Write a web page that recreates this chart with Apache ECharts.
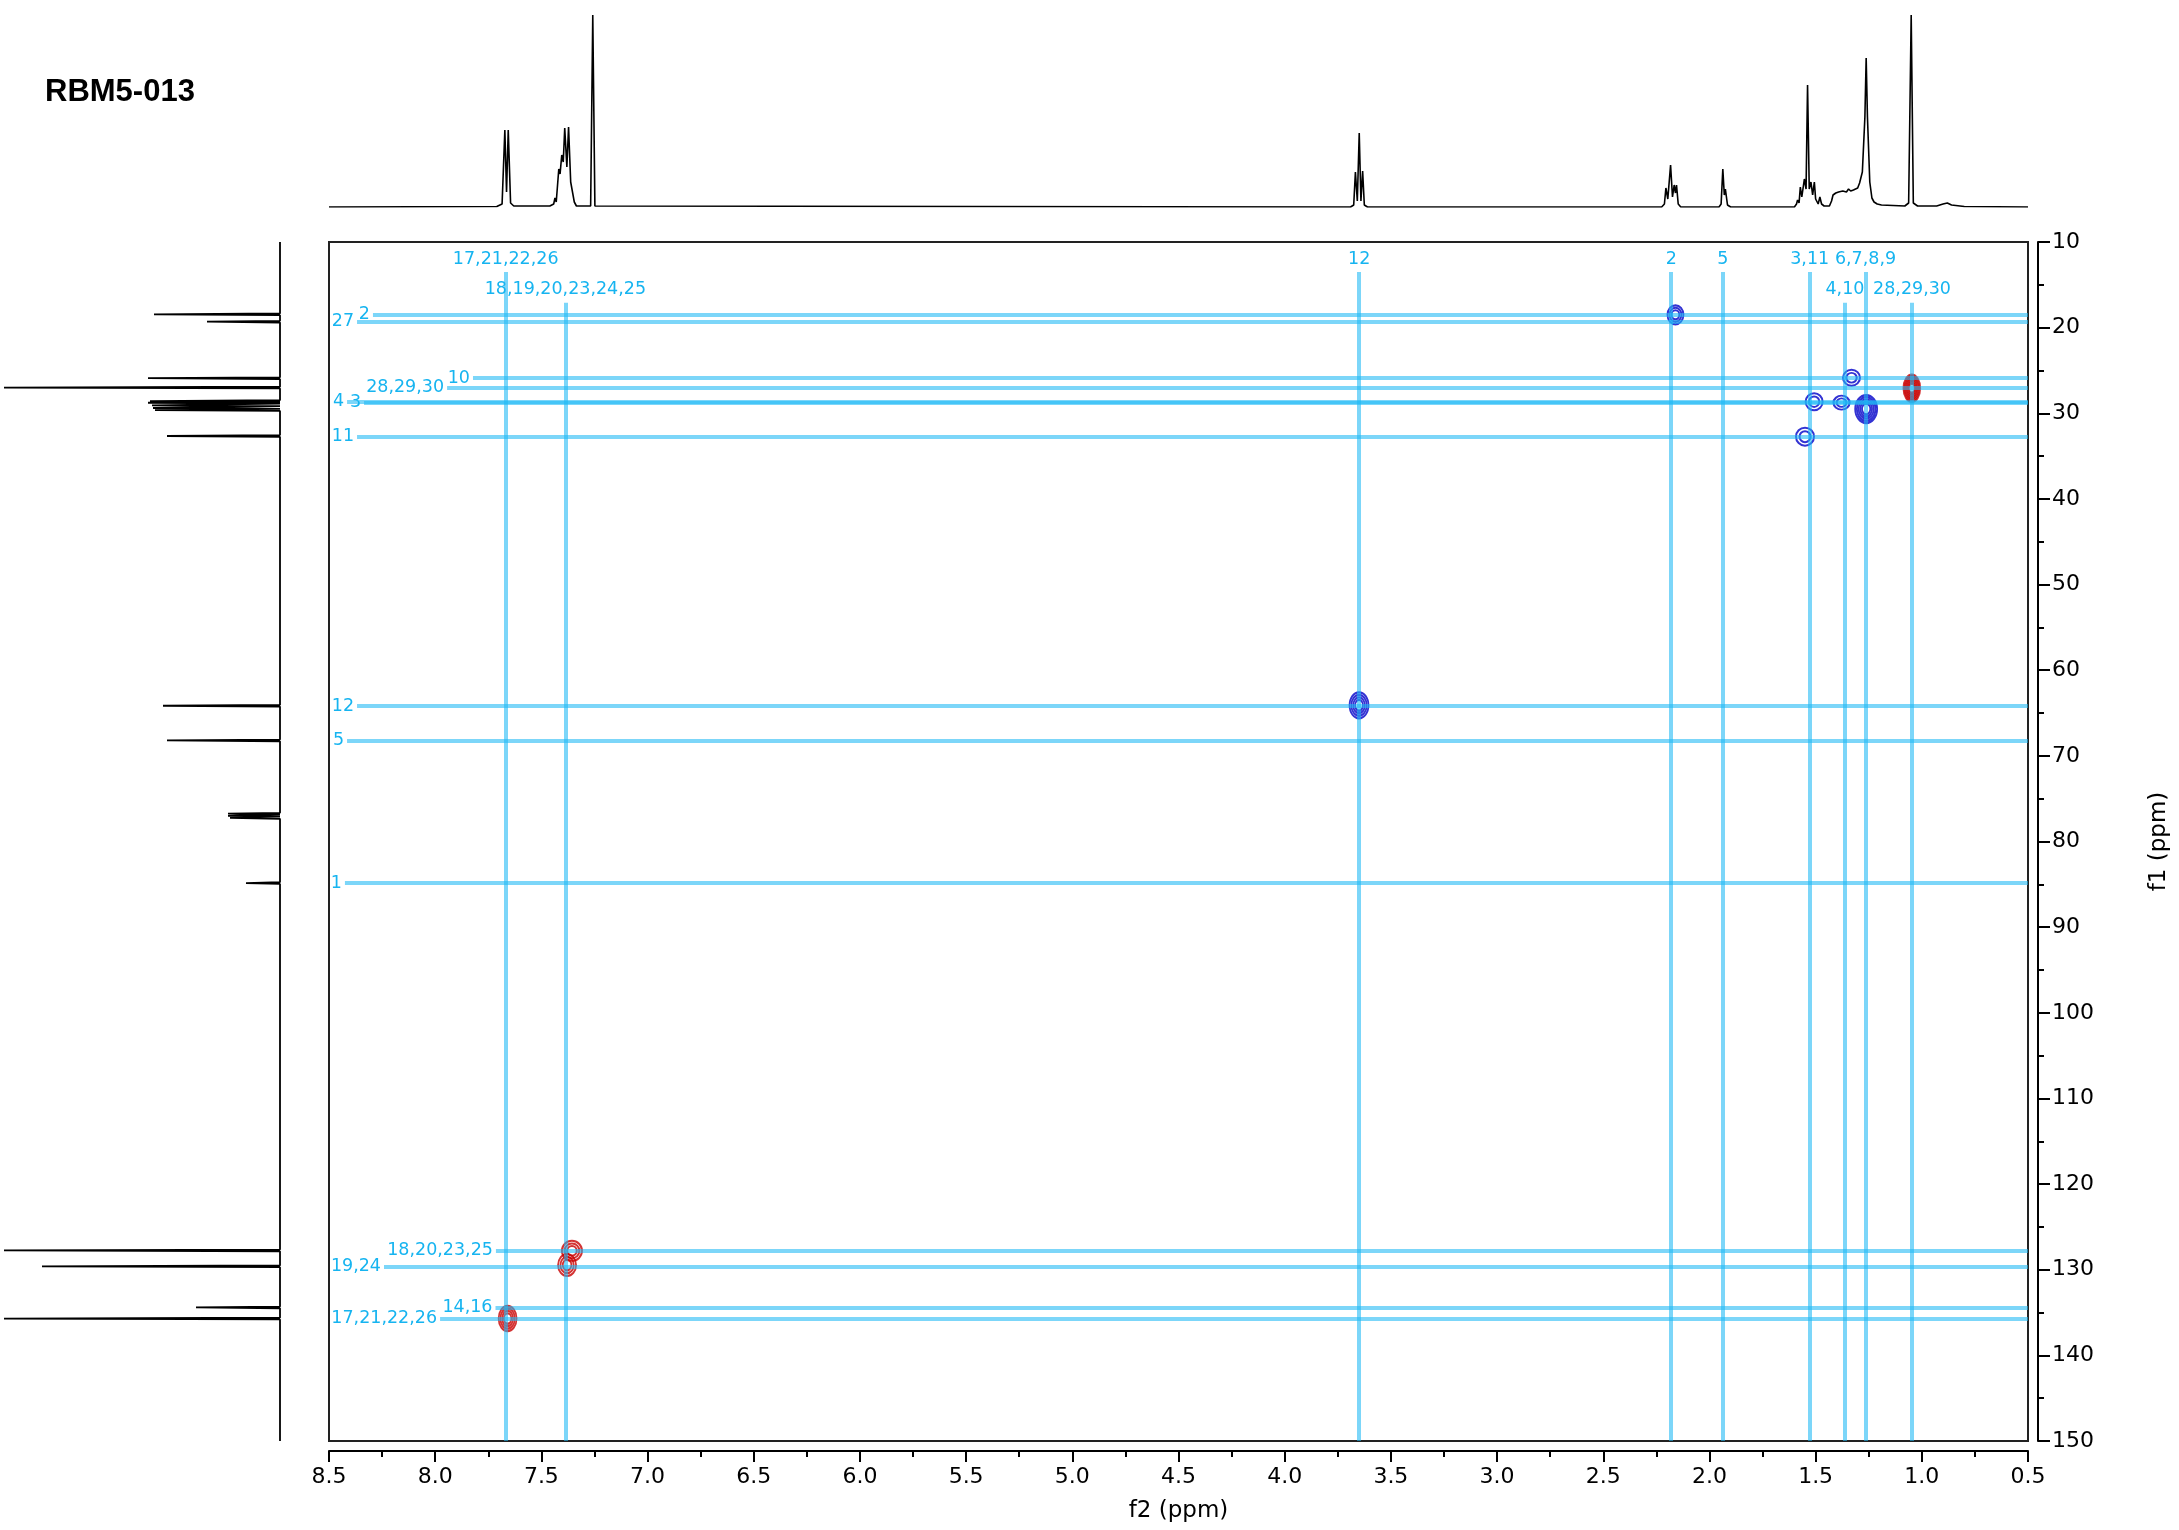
<!DOCTYPE html>
<html>
<head>
<meta charset="utf-8">
<title>RBM5-013 HSQC</title>
<script src="https://cdn.jsdelivr.net/npm/echarts@6/dist/echarts.min.js"></script>
<style>
  html, body { margin: 0; padding: 0; background: #fff; }
  #chart { width: 2179px; height: 1530px; }
</style>
</head>
<body>
<div id="chart"></div>
<script>
// 1H projection (top), [ppm, intensity]
const protonTrace = [
  [8.5, 0], [7.71, 0.5], [7.685, 3], [7.672, 77], [7.664, 15], [7.656, 77], [7.645, 4], [7.63, 1],
  [7.46, 1], [7.442, 3], [7.436, 9], [7.43, 5], [7.418, 38], [7.412, 33], [7.404, 52], [7.397, 45],
  [7.39, 79], [7.38, 40], [7.372, 80], [7.362, 25], [7.354, 26], [7.345, 5], [7.335, 1],
  [7.268, 1], [7.258, 192], [7.248, 1],
  [3.69, 0], [3.675, 2], [3.667, 35], [3.658, 6], [3.649, 74], [3.641, 6], [3.633, 36], [3.625, 2], [3.61, 0],
  [2.225, 0], [2.212, 3], [2.205, 19], [2.196, 8], [2.183, 42], [2.174, 10], [2.166, 22], [2.16, 14],
  [2.155, 22], [2.147, 3], [2.135, 0],
  [1.955, 0], [1.945, 3], [1.937, 38], [1.93, 12], [1.925, 18], [1.915, 2], [1.9, 0],
  [1.6, 0], [1.59, 3], [1.585, 7], [1.578, 4], [1.572, 20], [1.565, 10], [1.553, 28], [1.545, 18],
  [1.538, 122], [1.53, 18], [1.522, 25], [1.514, 12], [1.506, 25], [1.5, 8], [1.495, 10], [1.488, 3],
  [1.48, 10], [1.472, 3], [1.46, 1], [1.435, 1],
  [1.425, 6], [1.418, 12], [1.405, 14], [1.392, 15], [1.385, 13], [1.372, 16], [1.365, 17], [1.355, 15],
  [1.345, 18], [1.335, 16], [1.322, 17], [1.313, 15], [1.302, 19], [1.293, 24], [1.28, 35], [1.268, 90],
  [1.262, 149], [1.256, 90], [1.245, 25], [1.235, 9], [1.225, 5], [1.21, 3], [1.19, 2],
  [1.08, 1], [1.062, 4], [1.05, 192], [1.04, 4], [1.02, 1],
  [0.93, 1], [0.9, 3], [0.88, 4], [0.86, 2], [0.8, 0.5], [0.5, 0]
];

// 13C projection (left)
const carbonShift = [18.44, 19.3, 25.9, 27.0, 28.57, 28.77, 29.07, 29.38, 29.62, 32.65,
  64.15, 68.2, 76.75, 77.0, 77.25, 84.85, 127.75, 129.6, 134.4, 135.7];
const carbonHeight = [126, 73, 132, 276, 130, 132, 128, 127, 125, 113,
  117, 113, 52, 52, 50, 34, 276, 238, 84, 276];

// HSQC cross peaks
const peakH = [2.16, 1.331, 1.507, 1.378, 1.262, 1.55, 1.047, 3.65, 7.356, 7.379, 7.659];
const peakC = [18.5, 25.85, 28.65, 28.76, 29.5, 32.73, 27.08, 64.1, 127.8, 129.45, 135.7];
const peakKind = ['CH2', 'CH2', 'CH2', 'CH2', 'CH2', 'CH2', 'CH', 'CH2', 'CH', 'CH', 'CH'];
const peakLevels = [3, 2, 2, 2, 5, 2, 7, 4, 3, 3, 4];
// outer contour size in px (style)
const ringSize = [[16, 19], [17, 16], [17, 17], [16, 14], [22, 28], [18, 18], [17, 27], [19, 26], [20, 20], [18, 22], [18, 25]];

// assignment lines, 1H (vertical)
const hLabels = ['17,21,22,26', '18,19,20,23,24,25', '12', '2', '5', '3,11', '4,10', '6,7,8,9', '28,29,30'];
const hShift = [7.668, 7.387, 3.649, 2.18, 1.937, 1.528, 1.362, 1.265, 1.046];
const hRow = [1, 2, 1, 1, 1, 1, 2, 1, 2];

// assignment lines, 13C (horizontal)
const cLabels = ['2', '27', '10', '28,29,30', '4', '3', '11', '12', '5', '1', '18,20,23,25', '19,24', '14,16', '17,21,22,26'];
const cShift = [18.44, 19.3, 25.9, 27.0, 28.62, 28.78, 32.7, 64.2, 68.25, 84.85, 127.8, 129.6, 134.4, 135.7];
// where each horizontal line starts (1H ppm), leaves room for its label
const cLineStart = [8.293, 8.368, 7.822, 7.944, 8.415, 8.335, 8.368, 8.368, 8.415, 8.425, 7.714, 8.241, 7.716, 7.977];

const chart = echarts.init(document.getElementById('chart'));

const carbonTrace = [[0, 10]];
carbonShift.forEach(function (c, i) {
  carbonTrace.push([0, c - 0.1], [carbonHeight[i], c], [0, c + 0.1]);
});
carbonTrace.push([0, 150]);

function rings(kind) {
  const out = [];
  peakH.forEach(function (h, i) {
    if (peakKind[i] !== kind) return;
    const n = peakLevels[i];
    const w = ringSize[i][0], ht = ringSize[i][1];
    for (let k = 0; k < n; k++) {
      const f = 1 - k * 0.78 / n;
      out.push({ value: [h, peakC[i]], symbolSize: [w * f, ht * f] });
    }
  });
  return out;
}

const lineColor = 'rgba(30,185,245,0.58)';
const labelColor = '#16b4f0';
const labelFont = { fontFamily: 'DejaVu Sans', fontSize: 17.5, color: labelColor };

const markData = [];
hShift.forEach(function (h, i) {
  markData.push([
    { coord: [h, hRow[i] === 1 ? 13.5 : 17.1], name: hLabels[i],
      label: Object.assign({ position: 'start', distance: 4, formatter: '{b}' }, labelFont) },
    { coord: [h, 150] }
  ]);
});
cShift.forEach(function (c, i) {
  markData.push([
    { coord: [cLineStart[i], c], name: cLabels[i],
      label: Object.assign({ position: 'start', distance: 3, formatter: '{b}' }, labelFont) },
    { coord: [0.5, c] }
  ]);
});

const axisFont = { fontFamily: 'DejaVu Sans', fontSize: 22, color: '#000' };

const option = {
  animation: false,
  backgroundColor: '#fff',
  title: {
    text: 'RBM5-013',
    left: 45,
    top: 77,
    padding: 0,
    textStyle: { fontFamily: 'Liberation Sans', fontWeight: 'bold', fontSize: 31, color: '#000' }
  },
  grid: [
    { left: 329, top: 242, width: 1699, height: 1199, show: true, borderColor: '#222', borderWidth: 2,
      backgroundColor: 'transparent', outerBoundsMode: 'none' },
    { left: 329, top: 14, width: 1699, height: 193, outerBoundsMode: 'none' },
    { left: 0, top: 242, width: 280, height: 1199, outerBoundsMode: 'none' }
  ],
  xAxis: [
    {
      gridIndex: 0, type: 'value', min: 0.5, max: 8.5, interval: 0.5, inverse: true,
      position: 'bottom', offset: 10,
      axisLine: { lineStyle: { color: '#000', width: 2 } },
      axisTick: { length: 11, lineStyle: { color: '#000', width: 2 } },
      minorTick: { show: true, splitNumber: 2, length: 6, lineStyle: { color: '#000', width: 2 } },
      splitLine: { show: false },
      axisLabel: Object.assign({ margin: 15, formatter: function (v) { return v.toFixed(1); } }, axisFont),
      name: 'f2 (ppm)', nameLocation: 'middle', nameGap: 49,
      nameTextStyle: { fontFamily: 'DejaVu Sans', fontSize: 23, color: '#000' }
    },
    { gridIndex: 1, type: 'value', min: 0.5, max: 8.5, inverse: true, show: false },
    { gridIndex: 2, type: 'value', min: 0, max: 280, inverse: true, show: false }
  ],
  yAxis: [
    {
      gridIndex: 0, type: 'value', min: 10, max: 150, interval: 10, inverse: true,
      position: 'right', offset: 10,
      axisLine: { show: true, lineStyle: { color: '#000', width: 2 } },
      axisTick: { show: true, length: 12, lineStyle: { color: '#000', width: 2 } },
      minorTick: { show: true, splitNumber: 2, length: 6, lineStyle: { color: '#000', width: 2 } },
      splitLine: { show: false },
      axisLabel: Object.assign({ margin: 14 }, axisFont),
      name: 'f1 (ppm)', nameLocation: 'middle', nameRotate: 90, nameGap: 110,
      nameTextStyle: { fontFamily: 'DejaVu Sans', fontSize: 23, color: '#000' }
    },
    { gridIndex: 1, type: 'value', min: 0, max: 193, show: false },
    { gridIndex: 2, type: 'value', min: 10, max: 150, inverse: true, show: false }
  ],
  series: [
    {
      name: '1H', type: 'line', xAxisIndex: 1, yAxisIndex: 1, data: protonTrace,
      showSymbol: false, symbol: 'none', silent: true,
      lineStyle: { color: '#000', width: 1.6 }
    },
    {
      name: '13C', type: 'line', xAxisIndex: 2, yAxisIndex: 2, data: carbonTrace,
      showSymbol: false, symbol: 'none', silent: true,
      lineStyle: { color: '#000', width: 1.8 }
    },
    {
      name: 'CH2', type: 'scatter', xAxisIndex: 0, yAxisIndex: 0, data: rings('CH2'),
      symbol: 'circle', silent: true, z: 2,
      itemStyle: { color: 'rgba(0,0,0,0)', borderColor: '#0000c8', borderWidth: 2 }
    },
    {
      name: 'CH/CH3', type: 'scatter', xAxisIndex: 0, yAxisIndex: 0, data: rings('CH'),
      symbol: 'circle', silent: true, z: 2,
      itemStyle: { color: 'rgba(0,0,0,0)', borderColor: '#c80000', borderWidth: 2 }
    },
    {
      name: 'assign', type: 'line', xAxisIndex: 0, yAxisIndex: 0, data: [], z: 5,
      markLine: {
        silent: true, symbol: ['none', 'none'], animation: false,
        lineStyle: { color: lineColor, width: 4, type: 'solid' },
        emphasis: { disabled: true },
        data: markData
      }
    }
  ]
};

chart.setOption(option);
</script>
</body>
</html>
